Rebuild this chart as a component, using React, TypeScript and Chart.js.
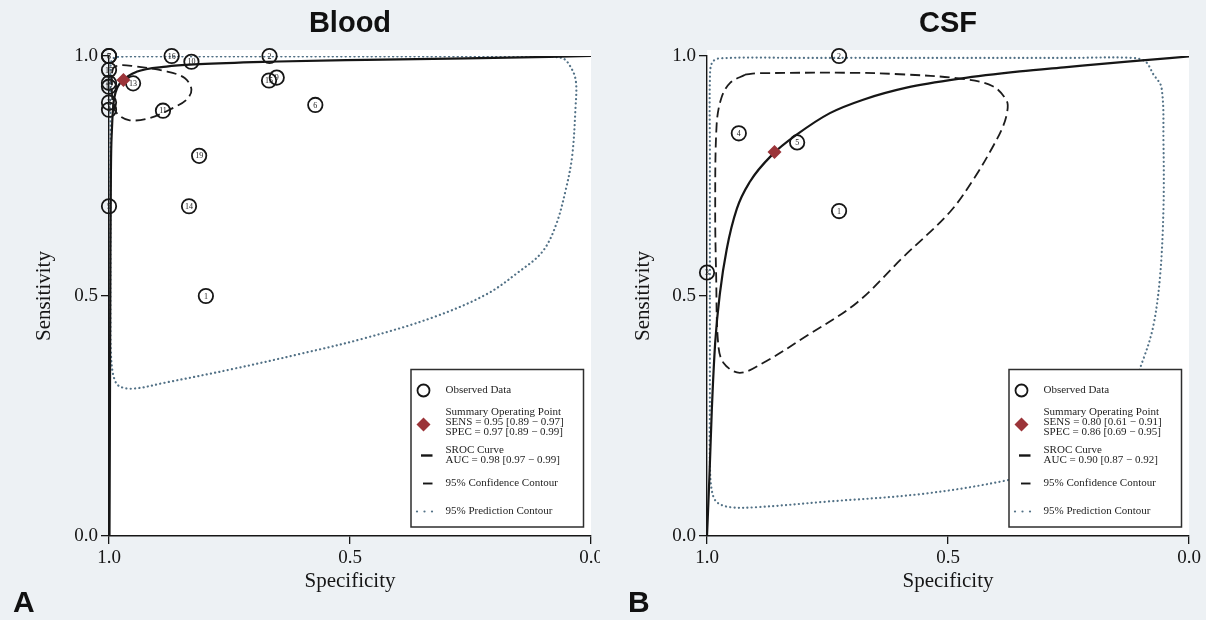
import React, { useEffect, useRef } from 'react';
import { Chart, registerables } from 'chart.js';

Chart.register(...registerables);

// ---------- shared ----------
const axisStep = 0.5;
const PAGE_BG = '#edf1f4';
const DIAMOND = '#9b3439';
const PRED_COLOR = '#527186';
const INK = '#161616';
const SERIF = '"Liberation Serif", "Times New Roman", serif';
const SANS = '"Liberation Sans", Arial, sans-serif';
const PLOT_TOP = 56;
const PLOT_BOTTOM = 536;
const H = 620;

// ---------- Blood ----------
const bloodStudyIds = ['8', '7', '17', '18', '12', '3', '4', '5', '16', '10', '2', '15', '9', '6', '13', '11', '19', '14', '1'];
const bloodStudySpec = [1.0, 1.0, 1.0, 1.0, 1.0, 1.0, 1.0, 1.0, 0.870, 0.829, 0.667, 0.668, 0.652, 0.572, 0.950, 0.888, 0.813, 0.834, 0.799];
const bloodStudySens = [1.0, 1.0, 0.971, 0.944, 0.936, 0.903, 0.888, 0.687, 1.0, 0.988, 1.0, 0.949, 0.955, 0.898, 0.943, 0.886, 0.792, 0.687, 0.500];
const bloodSummarySpec = [0.97];
const bloodSummarySens = [0.95];
const bloodSrocSpec = [0.999, 0.998, 0.997, 0.996, 0.994, 0.991, 0.986, 0.970, 0.943, 0.881, 0.812, 0.674, 0.467, 0.259, 0.0];
const bloodSrocSens = [0.0, 0.285, 0.597, 0.763, 0.846, 0.898, 0.925, 0.950, 0.967, 0.978, 0.983, 0.988, 0.992, 0.995, 1.0];
const bloodConfSpec = [0.994, 0.990, 0.975, 0.950, 0.881, 0.843, 0.829, 0.839, 0.867, 0.915, 0.957, 0.981, 0.991, 0.994, 0.994];
const bloodConfSens = [0.964, 0.976, 0.981, 0.979, 0.968, 0.954, 0.930, 0.909, 0.892, 0.871, 0.866, 0.878, 0.895, 0.930, 0.964];
const bloodPredSpec = [0.997, 0.997, 0.997, 0.995, 0.985, 0.90, 0.70, 0.50, 0.30, 0.12, 0.06, 0.039, 0.031, 0.032, 0.039, 0.052, 0.073, 0.101, 0.149, 0.218, 0.329, 0.466, 0.605, 0.743, 0.881, 0.950, 0.980, 0.991, 0.996, 0.997, 0.997];
const bloodPredSens = [0.55, 0.80, 0.95, 0.990, 0.998, 0.999, 0.999, 0.999, 0.999, 0.999, 0.996, 0.971, 0.944, 0.895, 0.792, 0.723, 0.647, 0.592, 0.551, 0.503, 0.455, 0.413, 0.379, 0.348, 0.320, 0.307, 0.313, 0.335, 0.38, 0.45, 0.55];
const bloodStats = ['SENS = 0.95 [0.89 \u2212 0.97]', 'SPEC = 0.97 [0.89 \u2212 0.99]', 'AUC = 0.98 [0.97 \u2212 0.99]'];

// ---------- CSF ----------
const csfStudyIds = ['2', '4', '5', '1', '3'];
const csfStudySpec = [0.726, 0.934, 0.813, 0.726, 1.0];
const csfStudySens = [1.0, 0.839, 0.820, 0.677, 0.549];
const csfSummarySpec = [0.86];
const csfSummarySens = [0.80];
const csfSrocSpec = [1.0, 0.995, 0.990, 0.983, 0.973, 0.959, 0.938, 0.911, 0.864, 0.814, 0.745, 0.676, 0.586, 0.475, 0.351, 0.254, 0.122, 0.0];
const csfSrocSens = [0.0, 0.123, 0.263, 0.403, 0.507, 0.598, 0.682, 0.738, 0.795, 0.836, 0.881, 0.909, 0.934, 0.953, 0.968, 0.977, 0.989, 0.999];
const csfConfSpec = [0.921, 0.897, 0.70, 0.600, 0.475, 0.407, 0.378, 0.377, 0.386, 0.407, 0.444, 0.496, 0.593, 0.689, 0.793, 0.883, 0.932, 0.966, 0.977, 0.981, 0.983, 0.980, 0.970, 0.952, 0.921];
const csfConfSens = [0.961, 0.964, 0.965, 0.962, 0.953, 0.937, 0.906, 0.885, 0.853, 0.811, 0.748, 0.675, 0.581, 0.486, 0.417, 0.361, 0.340, 0.361, 0.403, 0.542, 0.682, 0.857, 0.913, 0.944, 0.961];
const csfPredSpec = [0.994, 0.994, 0.994, 0.990, 0.975, 0.80, 0.50, 0.25, 0.116, 0.09, 0.074, 0.057, 0.053, 0.053, 0.060, 0.074, 0.095, 0.133, 0.205, 0.299, 0.378, 0.551, 0.759, 0.897, 0.952, 0.980, 0.990, 0.994, 0.994, 0.994];
const csfPredSens = [0.50, 0.80, 0.95, 0.985, 0.995, 0.996, 0.996, 0.996, 0.996, 0.988, 0.962, 0.934, 0.822, 0.682, 0.542, 0.438, 0.368, 0.277, 0.193, 0.140, 0.116, 0.088, 0.071, 0.060, 0.060, 0.071, 0.095, 0.15, 0.30, 0.50];
const csfStats = ['SENS = 0.80 [0.61 \u2212 0.91]', 'SPEC = 0.86 [0.69 \u2212 0.95]', 'AUC = 0.90 [0.87 \u2212 0.92]'];

const pts = (xs: number[], ys: number[]) => xs.map((x, i) => ({ x, y: ys[i] }));

type PanelProps = {
  offset: number;
  width: number;
  plotLeft: number;
  plotRight: number;
  yTitlePad: number;
  title: string;
  letter: string;
  letterX: number;
  ids: string[];
  spec: number[];
  sens: number[];
  sumSpec: number[];
  sumSens: number[];
  srocSpec: number[];
  srocSens: number[];
  confSpec: number[];
  confSens: number[];
  predSpec: number[];
  predSens: number[];
  stats: string[];
};

function drawLegend(ctx: CanvasRenderingContext2D, area: any, stats: string[]) {
  const right = area.right - 7.5;
  const left = right - 172.5;
  const top = 369.5;
  const bottom = 527;
  ctx.save();
  ctx.fillStyle = '#ffffff';
  ctx.fillRect(left, top, right - left, bottom - top);
  ctx.strokeStyle = '#2e2e2e';
  ctx.lineWidth = 1.5;
  ctx.strokeRect(left, top, right - left, bottom - top);

  const sx = left + 12.5;
  const tx = left + 34.5;
  // observed circle
  ctx.beginPath();
  ctx.arc(sx, top + 21, 6, 0, Math.PI * 2);
  ctx.lineWidth = 1.8;
  ctx.strokeStyle = INK;
  ctx.stroke();
  // diamond
  ctx.beginPath();
  ctx.moveTo(sx, top + 48);
  ctx.lineTo(sx + 7, top + 55);
  ctx.lineTo(sx, top + 62);
  ctx.lineTo(sx - 7, top + 55);
  ctx.closePath();
  ctx.fillStyle = DIAMOND;
  ctx.fill();
  // sroc sample
  ctx.beginPath();
  ctx.moveTo(left + 10, top + 86);
  ctx.lineTo(left + 21.5, top + 86);
  ctx.lineWidth = 2.4;
  ctx.strokeStyle = INK;
  ctx.stroke();
  // conf sample
  ctx.beginPath();
  ctx.moveTo(left + 12, top + 114);
  ctx.lineTo(left + 21.5, top + 114);
  ctx.lineWidth = 1.9;
  ctx.stroke();
  // pred sample
  ctx.fillStyle = PRED_COLOR;
  [6, 13.5, 21].forEach((d) => {
    ctx.beginPath();
    ctx.arc(left + d, top + 142, 1.1, 0, Math.PI * 2);
    ctx.fill();
  });

  ctx.fillStyle = '#1e1e1e';
  ctx.font = `11px ${SERIF}`;
  ctx.textAlign = 'left';
  ctx.textBaseline = 'middle';
  ctx.fillText('Observed Data', tx, top + 21);
  ctx.fillText('Summary Operating Point', tx, top + 43);
  ctx.fillText(stats[0], tx, top + 53);
  ctx.fillText(stats[1], tx, top + 63);
  ctx.fillText('SROC Curve', tx, top + 80.5);
  ctx.fillText(stats[2], tx, top + 90.5);
  ctx.fillText('95% Confidence Contour', tx, top + 114);
  ctx.fillText('95% Prediction Contour', tx, top + 142);
  ctx.restore();
}

function RocPanel(p: PanelProps) {
  const ref = useRef<HTMLCanvasElement>(null);

  useEffect(() => {
    if (!ref.current) return;
    const panelPlugin = {
      id: 'panelDecor',
      beforeDraw(chart: any) {
        const { ctx, chartArea: a } = chart;
        ctx.save();
        ctx.fillStyle = '#ffffff';
        ctx.fillRect(a.left, a.top - 6, a.right - a.left, a.bottom - a.top + 6);
        ctx.restore();
      },
      afterDatasetsDraw(chart: any) {
        const { ctx } = chart;
        const meta = chart.getDatasetMeta(1);
        ctx.save();
        ctx.font = `8px ${SERIF}`;
        ctx.fillStyle = '#222222';
        ctx.textAlign = 'center';
        ctx.textBaseline = 'middle';
        meta.data.forEach((el: any, i: number) => {
          ctx.fillText(p.ids[i], el.x, el.y + 0.5);
        });
        ctx.restore();
      },
      afterDraw(chart: any) {
        const { ctx, chartArea: a } = chart;
        ctx.save();
        ctx.fillStyle = '#111111';
        ctx.font = `bold 29px ${SANS}`;
        ctx.textAlign = 'center';
        ctx.textBaseline = 'alphabetic';
        ctx.fillText(p.title, (a.left + a.right) / 2, 32);
        ctx.font = `bold 30px ${SANS}`;
        ctx.textAlign = 'left';
        ctx.fillText(p.letter, p.letterX, 612);
        ctx.restore();
        drawLegend(ctx, a, p.stats);
      },
    };

    const axisCommon = {
      type: 'linear' as const,
      min: 0,
      max: 1,
      ticks: {
        stepSize: axisStep,
        callback: (v: any) => Number(v).toFixed(1),
        font: { family: SERIF, size: 19 },
        color: INK,
        padding: 3,
        maxRotation: 0,
        autoSkip: false,
      },
      grid: { drawOnChartArea: false, drawTicks: true, tickLength: 8, color: INK, lineWidth: 1.3 },
      border: { display: true, color: INK, width: 1.4 },
    };

    const chart = new Chart(ref.current, {
      type: 'scatter',
      data: {
        datasets: [
          {
            label: 'Summary Operating Point',
            data: pts(p.sumSpec, p.sumSens),
            pointStyle: 'rectRot',
            pointRadius: 7,
            backgroundColor: DIAMOND,
            borderColor: DIAMOND,
            borderWidth: 0,
            clip: false,
          },
          {
            label: 'Observed Data',
            data: pts(p.spec, p.sens),
            pointStyle: 'circle',
            pointRadius: 7.2,
            backgroundColor: 'rgba(0,0,0,0)',
            borderColor: INK,
            borderWidth: 1.8,
            clip: false,
          },
          {
            label: 'SROC Curve',
            data: pts(p.srocSpec, p.srocSens),
            showLine: true,
            borderColor: INK,
            borderWidth: 2.2,
            pointRadius: 0,
            cubicInterpolationMode: 'monotone',
            fill: false,
          },
          {
            label: '95% Confidence Contour',
            data: pts(p.confSpec, p.confSens),
            showLine: true,
            borderColor: '#1c1c1c',
            borderWidth: 1.8,
            borderDash: [10, 5],
            pointRadius: 0,
            tension: 0.35,
            fill: false,
          },
          {
            label: '95% Prediction Contour',
            data: pts(p.predSpec, p.predSens),
            showLine: true,
            borderColor: PRED_COLOR,
            borderWidth: 2.2,
            borderDash: [0.1, 4.2],
            borderCapStyle: 'round',
            pointRadius: 0,
            tension: 0.35,
            fill: false,
          },
        ] as any,
      },
      options: {
        responsive: false,
        animation: false,
        devicePixelRatio: 1,
        events: [],
        layout: { padding: { top: PLOT_TOP, right: p.width - p.plotRight, bottom: 0, left: 0 } },
        plugins: { legend: { display: false }, tooltip: { enabled: false }, title: { display: false } },
        scales: {
          x: {
            ...axisCommon,
            reverse: true,
            position: 'bottom',
            title: {
              display: true,
              text: 'Specificity',
              font: { family: SERIF, size: 21 },
              color: INK,
              padding: { top: 0, bottom: 26 },
            },
            afterFit: (s: any) => {
              s.height = H - PLOT_BOTTOM;
              s.paddingLeft = 0;
              s.paddingRight = 0;
            },
          },
          y: {
            ...axisCommon,
            position: 'left',
            title: {
              display: true,
              text: 'Sensitivity',
              font: { family: SERIF, size: 21 },
              color: INK,
              padding: { top: p.yTitlePad, bottom: 0 },
            },
            afterFit: (s: any) => {
              s.width = p.plotLeft;
              s.paddingTop = 0;
              s.paddingBottom = 0;
            },
          },
        },
      } as any,
      plugins: [panelPlugin],
    });
    return () => chart.destroy();
  }, []);

  return (
    <canvas
      ref={ref}
      width={p.width}
      height={H}
      style={{ position: 'absolute', left: p.offset, top: 0, width: p.width, height: H }}
    />
  );
}

export default function App() {
  return (
    <div
      style={{
        position: 'fixed',
        left: 0,
        top: 0,
        width: 1206,
        height: 620,
        background: PAGE_BG,
        overflow: 'hidden',
      }}
    >
      <RocPanel
        offset={0}
        width={600}
        plotLeft={109}
        plotRight={592}
        yTitlePad={32}
        title="Blood"
        letter="A"
        letterX={13}
        ids={bloodStudyIds}
        spec={bloodStudySpec}
        sens={bloodStudySens}
        sumSpec={bloodSummarySpec}
        sumSens={bloodSummarySens}
        srocSpec={bloodSrocSpec}
        srocSens={bloodSrocSens}
        confSpec={bloodConfSpec}
        confSens={bloodConfSens}
        predSpec={bloodPredSpec}
        predSens={bloodPredSens}
        stats={bloodStats}
      />
      <RocPanel
        offset={600}
        width={606}
        plotLeft={107}
        plotRight={589}
        yTitlePad={31}
        title="CSF"
        letter="B"
        letterX={28}
        ids={csfStudyIds}
        spec={csfStudySpec}
        sens={csfStudySens}
        sumSpec={csfSummarySpec}
        sumSens={csfSummarySens}
        srocSpec={csfSrocSpec}
        srocSens={csfSrocSens}
        confSpec={csfConfSpec}
        confSens={csfConfSens}
        predSpec={csfPredSpec}
        predSens={csfPredSens}
        stats={csfStats}
      />
    </div>
  );
}
